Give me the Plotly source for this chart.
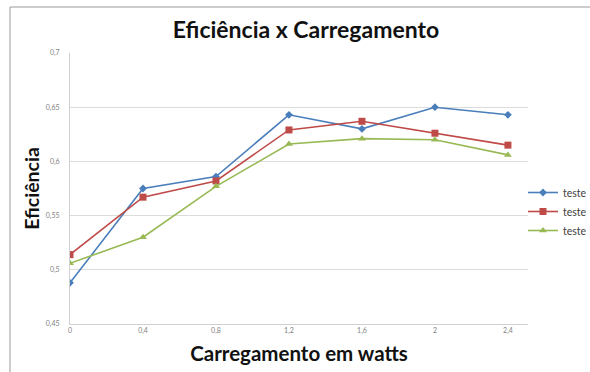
import plotly.graph_objects as go

# Load levels (W) and measured efficiency for the three test runs
carregamento = [0, 0.4, 0.8, 1.2, 1.6, 2.0, 2.4]
teste_azul = [0.488, 0.575, 0.586, 0.643, 0.630, 0.650, 0.643]
teste_vermelho = [0.514, 0.567, 0.582, 0.629, 0.637, 0.626, 0.615]
teste_verde = [0.506, 0.530, 0.577, 0.616, 0.621, 0.620, 0.606]

nomes = ["teste", "teste", "teste"]
cores = ["#4a7ebb", "#be4b48", "#98b954"]
simbolos = ["diamond", "square", "triangle-up"]
tamanhos = [6, 7, 7]

W, H = 590, 372
ML, MR, MT, MB = 70, 62, 53, 48
PW, PH = W - ML - MR, H - MT - MB

fig = go.Figure()
for serie, nome, cor, simb, tam in zip(
    [teste_azul, teste_vermelho, teste_verde], nomes, cores, simbolos, tamanhos
):
    fig.add_trace(go.Scatter(
        x=carregamento, y=serie, name=nome, mode="lines+markers",
        line=dict(color=cor, width=1.6),
        marker=dict(symbol=simb, size=tam, color=cor),
    ))

# Outer chart frame (in paper coordinates relative to the plot area)
def px_x(p):
    return (p - ML) / PW

def px_y(p):
    return (H - MB - p) / PH

fig.add_shape(type="rect", xref="paper", yref="paper",
              x0=px_x(10), x1=px_x(593), y0=px_y(7), y1=px_y(375),
              line=dict(color="#9a9a9a", width=1), fillcolor="rgba(0,0,0,0)",
              layer="below")

FONT = "Lato, Open Sans, sans-serif"
tick_font = dict(family=FONT, size=7, color="#7f7f7f")

fig.update_layout(
    width=W, height=H,
    margin=dict(l=ML, r=MR, t=MT, b=MB, autoexpand=False),
    paper_bgcolor="white", plot_bgcolor="white",
    separators=",.",
    showlegend=True,
    title=dict(text="<b>Eficiência x Carregamento</b>",
               font=dict(family=FONT, size=23, color="#111111"),
               x=306 / W, xanchor="center", y=1 - 30 / H, yanchor="middle",
               xref="container", yref="container"),
    xaxis=dict(range=[0, 2.51], tickvals=carregamento,
               ticktext=["0", "0,4", "0,8", "1,2", "1,6", "2", "2,4"],
               showgrid=False, zeroline=False,
               showline=True, linecolor="#d0d0d0", linewidth=1,
               tickfont=tick_font, ticks="",
               title=dict(text="<b>Carregamento em watts</b>",
                          font=dict(family=FONT, size=20.5, color="#111111"),
                          standoff=12)),
    yaxis=dict(range=[0.45, 0.7], tickvals=[0.45, 0.5, 0.55, 0.6, 0.65, 0.7],
               ticktext=["0,45", "0,5", "0,55", "0,6", "0,65", "0,7"],
               showgrid=True, gridcolor="#dcdcdc", gridwidth=1,
               zeroline=False, showline=True, linecolor="#d0d0d0", linewidth=1,
               tickfont=tick_font, ticks="", ticklabelstandoff=8,
               title=dict(text="<b>Eficiência</b>",
                          font=dict(family=FONT, size=19.5, color="#111111"),
                          standoff=0)),
    legend=dict(x=px_x(523), xanchor="left", y=px_y(178), yanchor="top",
                font=dict(family=FONT, size=10.5, color="#404040"),
                bgcolor="rgba(0,0,0,0)", itemwidth=30, tracegroupgap=0),
)

fig.write_html("out.html")
